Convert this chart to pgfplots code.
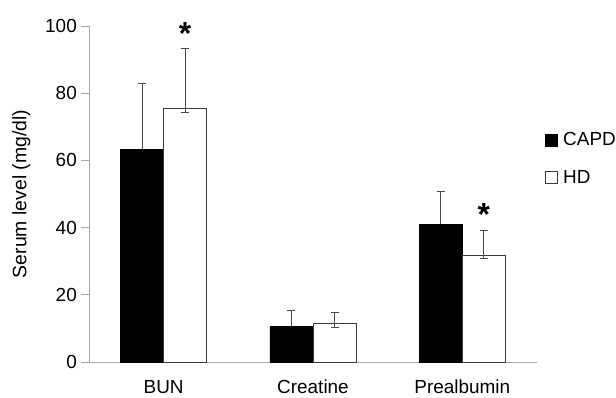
\documentclass[border=0pt]{standalone}
\usepackage{pgfplots}
\usepackage{pgfplotstable}
\pgfplotsset{compat=1.18}
\usepackage{fontspec}
\setmainfont{Liberation Sans}
\definecolor{axgray}{HTML}{A8A8A8}
\definecolor{errgray}{HTML}{4A4A4A}
\definecolor{hdedge}{HTML}{3A3A3A}
\pgfplotstableread{
x y ep
0 63.2 19.8
1 10.7 4.8
2 41.0 9.7
}\capd
\pgfplotstableread{
x y ep em
0 75.4 18.0 1.2
1 11.4 3.3 1.0
2 31.8 7.5 0.9
}\hd
\begin{document}
\begin{tikzpicture}
\begin{axis}[
  at={(0,0)}, anchor=south west,
  scale only axis, width=448bp, height=336bp,
  xmin=-0.5, xmax=2.5, ymin=0, ymax=100,
  ytick={0,20,40,60,80,100},
  xtick={0,1,2}, xticklabels={BUN,Creatine,Prealbumin},
  axis x line*=bottom, axis y line*=left,
  axis line style={draw=axgray, line width=0.8bp},
  tick align=outside, major tick length=8bp,
  y tick style={draw=axgray, line width=0.8bp},
  x tick style={draw=none},
  /pgf/number format/assume math mode=true,
  tick label style={font=\fontsize{19}{22}\selectfont},
  yticklabel style={inner sep=0pt, xshift=-4bp},
  xticklabel style={inner sep=0pt, text height=13.5bp, text depth=0bp, yshift=-10bp},
  ylabel={Serum level (mg/dl)},
  ylabel style={at={(axis description cs:-0.1719,0.5)}, anchor=north, inner sep=0pt, font=\fontsize{19.5}{23}\selectfont},
  clip=false,
  legend style={draw=none, fill=none, at={(rel axis cs:1.018,0.690)}, anchor=north west, inner sep=0pt,
    font=\fontsize{19}{22}\selectfont, row sep=19bp},
  legend cell align=left,
]
\addplot[ybar, bar width=0.288, bar shift=0pt, fill=black, draw=black,
  legend image code/.code={\draw[fill=black, draw=black] (0bp,-6bp) rectangle (12bp,6bp);},
  error bars/.cd, y dir=plus, y explicit,
  error bar style={draw=errgray, line width=0.7bp},
  error mark options={rotate=90, mark size=4bp, draw=errgray, line width=0.7bp}]
  table[x expr=\thisrow{x}-0.144, y=y, y error plus=ep] {\capd};
\addplot[ybar, bar width=0.288, bar shift=0pt, fill=white, draw=hdedge, line width=0.8bp,
  legend image code/.code={\draw[fill=white, draw=hdedge, line width=0.8bp] (0bp,-6bp) rectangle (12bp,6bp);},
  error bars/.cd, y dir=both, y explicit,
  error bar style={draw=errgray, line width=0.7bp},
  error mark options={rotate=90, mark size=4bp, draw=errgray, line width=0.7bp}]
  table[x expr=\thisrow{x}+0.144, y=y, y error plus=ep, y error minus=em] {\hd};
\legend{\,CAPD,\,HD}
\node[font=\bfseries\fontsize{32}{32}\selectfont, inner sep=0pt, anchor=center] at (axis cs:0.144,97.8) {*};
\node[font=\bfseries\fontsize{32}{32}\selectfont, inner sep=0pt, anchor=center] at (axis cs:2.144,43.8) {*};
\end{axis}
\pgfresetboundingbox
\path[use as bounding box] (-89bp,-36bp) rectangle (527bp,362bp);
\end{tikzpicture}
\end{document}
